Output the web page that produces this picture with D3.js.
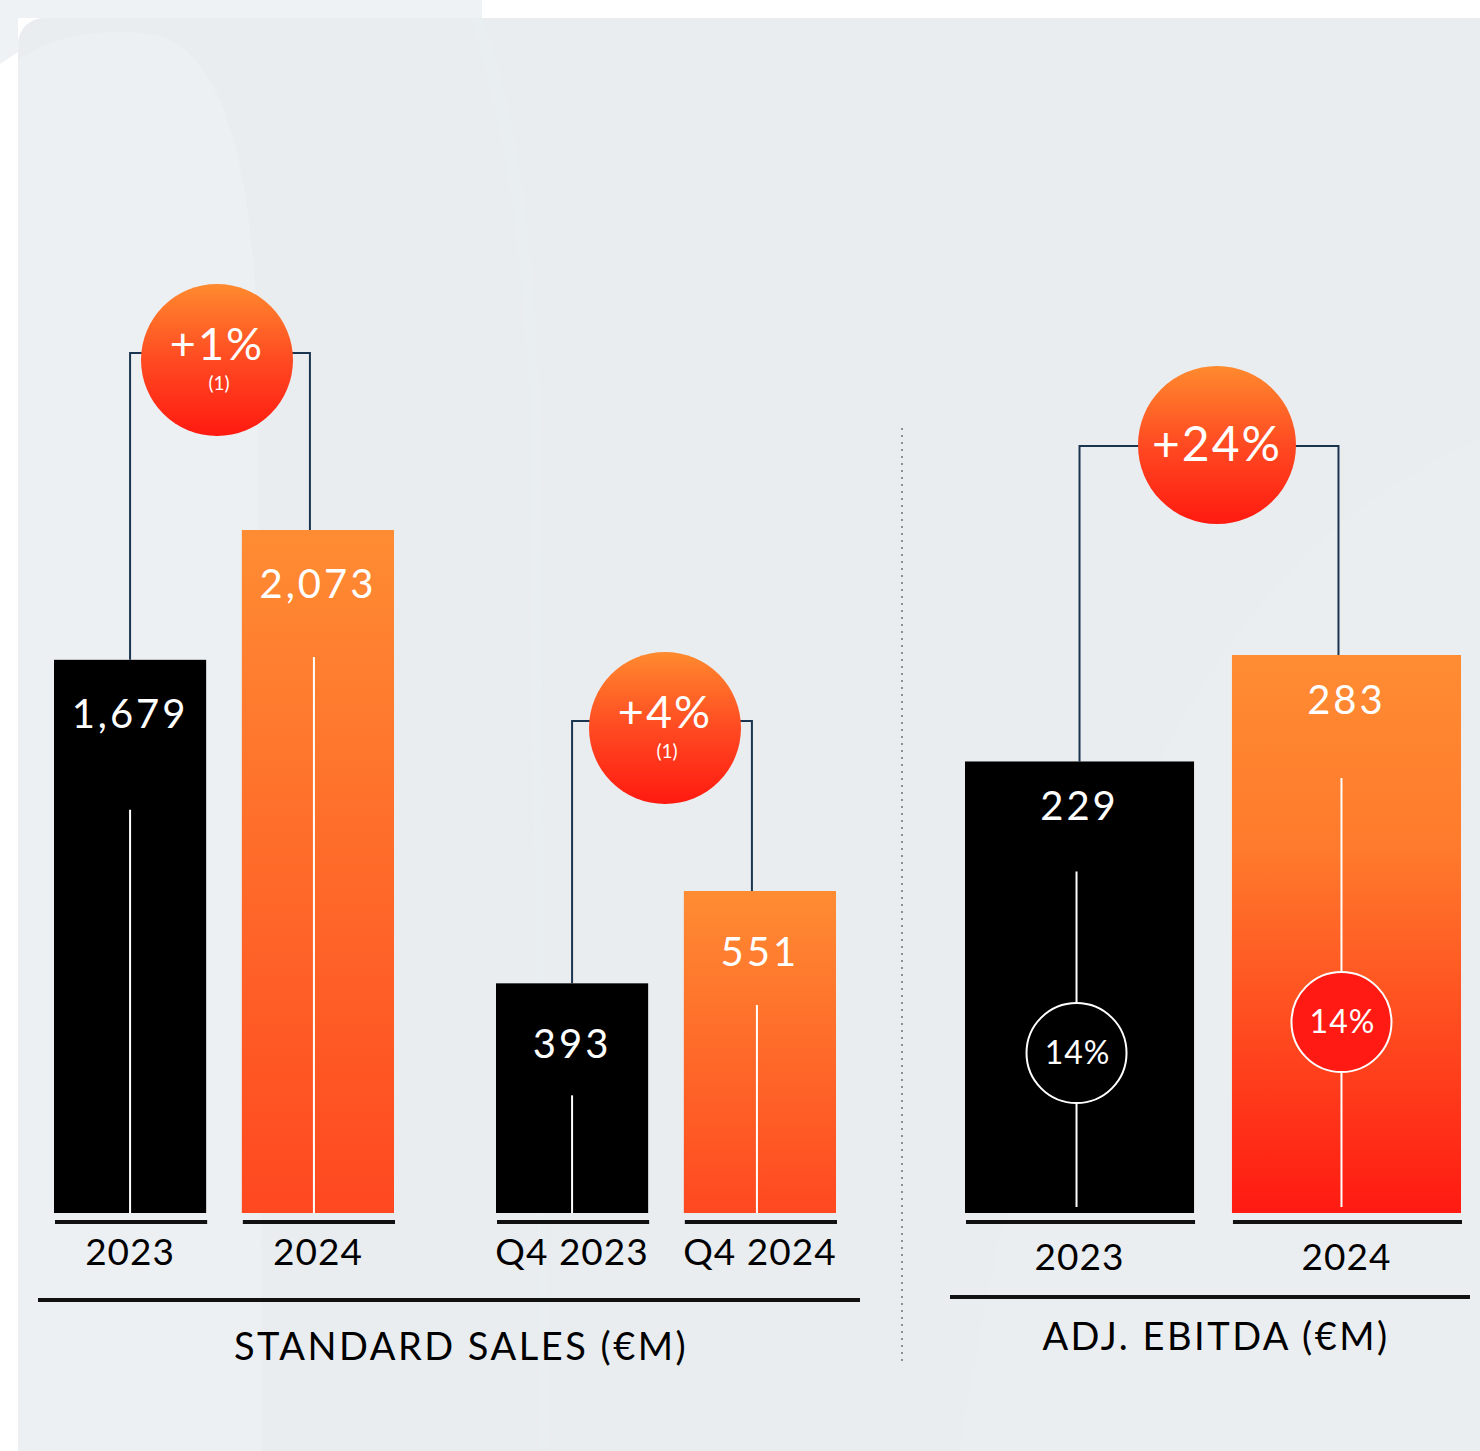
<!DOCTYPE html>
<html>
<head>
<meta charset="utf-8">
<script src="https://cdn.jsdelivr.net/npm/d3@7"></script>
<style>
  html, body { margin: 0; padding: 0; background: #ffffff; }
  svg { display: block; }
  text { font-family: Lato, "Noto Sans", sans-serif; }
</style>
</head>
<body>
<svg id="chart" width="1480" height="1451"></svg>
<script>
// ---- data ----
const salesYears = ["2023", "2024"];
const salesValues = [1679, 2073];
const salesLabels = ["1,679", "2,073"];
const salesGrowth = "+1%";

const q4Periods = ["Q4 2023", "Q4 2024"];
const q4Values = [393, 551];
const q4Labels = ["393", "551"];
const q4Growth = "+4%";

const ebitdaYears = ["2023", "2024"];
const ebitdaValues = [229, 283];
const ebitdaLabels = ["229", "283"];
const ebitdaGrowth = "+24%";
const ebitdaMargins = ["14%", "14%"];

const footnote = "(1)";
const salesTitle = "STANDARD SALES (€M)";
const ebitdaTitle = "ADJ. EBITDA (€M)";

// ---- drawing ----
const svg = d3.select("#chart");
const W = 1480, H = 1451;
const baseY = 1213;

const defs = svg.append("defs");
function vGrad(id, stops) {
  const g = defs.append("linearGradient").attr("id", id)
    .attr("x1", 0).attr("y1", 0).attr("x2", 0).attr("y2", 1);
  stops.forEach(([o, c]) => g.append("stop").attr("offset", o).attr("stop-color", c));
}
vGrad("gradSales", [[0, "#ff8c33"], [1, "#ff4820"]]);
vGrad("gradEbitda", [[0, "#ff8c33"], [0.35, "#ff7a2c"], [1, "#ff1a12"]]);
vGrad("gradBubble", [[0, "#ff8a2e"], [0.5, "#ff4a22"], [1, "#ff1a10"]]);

// background
svg.append("rect").attr("width", W).attr("height", H).attr("fill", "#ffffff");
svg.append("path")
  .attr("d", "M0,0 L482,0 L482,18 L18,18 L18,52 L0,64 Z")
  .attr("fill", "#eff2f4");
svg.append("rect").attr("x", 18).attr("y", 18).attr("width", W - 18 + 30).attr("height", H - 18 + 30)
  .attr("rx", 26).attr("fill", "#e9edf0");
// soft background shapes
svg.append("path")
  .attr("d", "M18,60 C60,30 120,28 160,36 C230,60 250,180 258,330 L262,1451 L18,1451 Z")
  .attr("fill", "#ecf0f3");
svg.append("path")
  .attr("d", "M482,18 C520,120 535,260 540,420 L548,1451 L540,1451 L530,420 C525,260 505,120 470,18 Z")
  .attr("fill", "#eaeef1").attr("opacity", 0.6);
svg.append("path")
  .attr("d", "M1480,440 C1300,520 1080,700 960,1451 L1480,1451 Z")
  .attr("fill", "#ebeef1");

// groups: band scale for x, linear scale for heights
const groups = [
  { cats: salesYears, values: salesValues, labels: salesLabels, growth: salesGrowth, note: footnote,
    x0: 54, x1: 394, pad: 0.19, scale: d3.scaleLinear().domain([0, 2073]).range([baseY, 530]),
    fill: ["#000000", "url(#gradSales)"], labelDy: 68, lineDy: [150, 127], bracketUp: 177,
    catY: 1265, bubbleR: 76, bubbleFont: 45, bubbleDx: -3, stemDx: [0, -4] },
  { cats: q4Periods, values: q4Values, labels: q4Labels, growth: q4Growth, note: footnote,
    x0: 496, x1: 836, pad: 0.19, scale: d3.scaleLinear().domain([0, 551]).range([baseY, 891]),
    fill: ["#000000", "url(#gradSales)"], labelDy: 75, lineDy: [112, 114], bracketUp: 170,
    catY: 1265, bubbleR: 76, bubbleFont: 45, bubbleDx: 3, stemDx: [0, -3] },
  { cats: ebitdaYears, values: ebitdaValues, labels: ebitdaLabels, growth: ebitdaGrowth, note: null,
    x0: 965, x1: 1461, pad: 0.142, scale: d3.scaleLinear().domain([0, 283]).range([baseY, 655]),
    fill: ["#000000", "url(#gradEbitda)"], labelDy: 59, lineDy: [110, 123], bracketUp: 209,
    catY: 1270, bubbleR: 79, bubbleFont: 48, bubbleDx: 8, stemDx: [-3, -5],
    margins: ebitdaMargins, marginUp: [160, 191], marginFill: ["#000000", "#ff1b14"] }
];

groups.forEach(g => {
  const x = d3.scaleBand().domain(g.cats).range([g.x0, g.x1]).paddingInner(g.pad).paddingOuter(0);
  const bw = x.bandwidth();
  const layer = svg.append("g");
  const cx = c => x(c) + bw / 2;
  const sx = i => cx(g.cats[i]) + g.stemDx[i];

  // bracket linking the two bars
  const tops = g.values.map(v => g.scale(v));
  const by = Math.min(...tops) - g.bracketUp;
  const lx = cx(g.cats[0]), rx = cx(g.cats[1]) - 8;
  layer.append("path")
    .attr("d", `M${lx},${tops[0]} L${lx},${by} L${rx},${by} L${rx},${tops[1]}`)
    .attr("fill", "none").attr("stroke", "#1b3550").attr("stroke-width", 2);

  // bars
  layer.selectAll("rect.bar").data(g.values).join("rect").attr("class", "bar")
    .attr("x", (d, i) => x(g.cats[i])).attr("y", d => g.scale(d))
    .attr("width", bw).attr("height", d => baseY - g.scale(d))
    .attr("fill", (d, i) => g.fill[i]);

  // thin white stems
  layer.selectAll("line.stem").data(g.values).join("line").attr("class", "stem")
    .attr("x1", (d, i) => sx(i)).attr("x2", (d, i) => sx(i))
    .attr("y1", (d, i) => g.scale(d) + g.lineDy[i]).attr("y2", g.margins ? baseY - 6 : baseY)
    .attr("stroke", "#ffffff").attr("stroke-width", 2);

  // margin rings
  if (g.margins) {
    g.margins.forEach((m, i) => {
      const cy = baseY - g.marginUp[i];
      layer.append("circle").attr("cx", sx(i)).attr("cy", cy).attr("r", 50)
        .attr("fill", g.marginFill[i]).attr("stroke", "#ffffff").attr("stroke-width", 2);
      layer.append("text").attr("x", sx(i) + 1).attr("y", cy + 11)
        .attr("text-anchor", "middle").attr("fill", "#ffffff")
        .attr("font-size", 32).attr("letter-spacing", 1).text(m);
    });
  }

  // value labels
  layer.selectAll("text.val").data(g.values).join("text").attr("class", "val")
    .attr("x", (d, i) => cx(g.cats[i])).attr("y", d => g.scale(d) + g.labelDy)
    .attr("text-anchor", "middle").attr("fill", "#ffffff")
    .attr("font-size", 40).attr("letter-spacing", 3).text((d, i) => g.labels[i]);

  // category underline and labels
  layer.selectAll("rect.tick").data(g.cats).join("rect").attr("class", "tick")
    .attr("x", d => x(d) + 1).attr("y", 1220).attr("width", bw).attr("height", 4)
    .attr("fill", "#111111");
  layer.selectAll("text.cat").data(g.cats).join("text").attr("class", "cat")
    .attr("x", d => cx(d)).attr("y", g.catY)
    .attr("text-anchor", "middle").attr("fill", "#000000")
    .attr("font-size", 37).attr("letter-spacing", 1).text(d => d);

  // growth bubble
  const bx = (lx + rx) / 2 + g.bubbleDx;
  const bcy = by + (g.note ? 7 : -1);
  layer.append("circle").attr("cx", bx).attr("cy", bcy).attr("r", g.bubbleR)
    .attr("fill", "url(#gradBubble)");
  layer.append("text").attr("x", bx).attr("y", g.note ? bcy : bcy + 16)
    .attr("text-anchor", "middle").attr("fill", "#ffffff")
    .attr("font-size", g.bubbleFont).attr("letter-spacing", 2).text(g.growth);
  if (g.note) {
    layer.append("text").attr("x", bx + 2).attr("y", bcy + 30)
      .attr("text-anchor", "middle").attr("fill", "#ffffff")
      .attr("font-size", 19).text(g.note);
  }
});

// section rules and titles
svg.append("rect").attr("x", 38).attr("y", 1298).attr("width", 822).attr("height", 4).attr("fill", "#111111");
svg.append("rect").attr("x", 950).attr("y", 1295).attr("width", 520).attr("height", 4).attr("fill", "#111111");
svg.append("text").attr("x", 461).attr("y", 1360).attr("text-anchor", "middle")
  .attr("font-size", 38).attr("letter-spacing", 2.5).attr("fill", "#000000").text(salesTitle);
svg.append("text").attr("x", 1216).attr("y", 1350).attr("text-anchor", "middle")
  .attr("font-size", 38).attr("letter-spacing", 2.5).attr("fill", "#000000").text(ebitdaTitle);

// dotted divider
svg.append("line").attr("x1", 902).attr("x2", 902).attr("y1", 428).attr("y2", 1362)
  .attr("stroke", "#8a9099").attr("stroke-width", 2).attr("stroke-dasharray", "2,5");
</script>
</body>
</html>
